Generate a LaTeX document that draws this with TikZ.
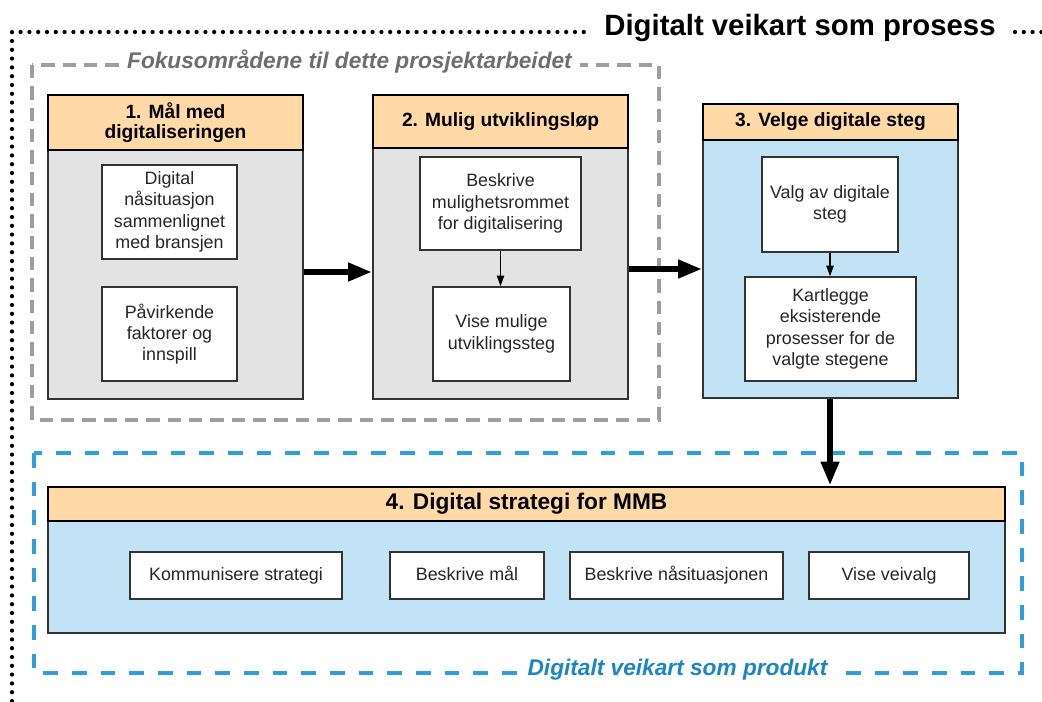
\documentclass[tikz,border=0pt]{standalone}
\usepackage{fontspec}
\setmainfont{Liberation Sans}
\usetikzlibrary{arrows.meta}
\definecolor{hdrfill}{HTML}{FFD9A6}
\definecolor{grayfill}{HTML}{E3E3E3}
\definecolor{bluefill}{HTML}{C1E3F5}
\definecolor{focusgray}{HTML}{9E9E9E}
\definecolor{labelgray}{HTML}{6E6E6E}
\definecolor{prodblue}{HTML}{2E9FDC}
\definecolor{prodtext}{HTML}{1B85C6}
\definecolor{edge}{HTML}{333333}
\begin{document}
\begin{tikzpicture}[x=0.75pt,y=-0.75pt,
  sz/.style 2 args={minimum width=#1*0.75pt, minimum height=#2*0.75pt},
  hdr/.style={draw=black, line width=2.2pt, fill=hdrfill, inner sep=0pt,
    font=\bfseries\fontsize{14.4}{15}\selectfont, align=center},
  body/.style={draw=edge, line width=1.3pt, inner sep=0pt},
  item/.style={draw=edge, line width=1.1pt, fill=white, inner sep=0pt,
    font=\fontsize{13.4}{16}\selectfont, align=center, text=black!85},
  oneline/.style={text height=9.6pt, text depth=2.8pt},
  bigarrow/.style={line width=5pt, -{Triangle[length=18pt,width=13pt]}},
  smallarrow/.style={line width=0.9pt, -{Triangle[length=8pt,width=5.5pt]}},
  framelabel/.style={fill=white, inner xsep=6pt, inner ysep=1pt,
    font=\bfseries\itshape\fontsize{17}{19}\selectfont},
]
\useasboundingbox[fill=white] (0,0) rectangle (1042,701);

% outer dotted frame: the process
\draw[line width=3.2pt, line cap=round, dash pattern=on 0pt off 6.6pt]
  (12,701) -- (12,32) -- (1042,32);
\node[fill=white, inner xsep=13pt, inner ysep=2pt,
  font=\bfseries\fontsize{22}{24}\selectfont] (title) at (800,28) {Digitalt veikart som prosess};

% grey dashed frame: focus areas
\draw[focusgray, line width=3pt, dash pattern=on 10pt off 6pt]
  (32,65) rectangle (659,420);
\node[framelabel, text=labelgray] (focus) at (349.5,62) {Fokusområdene til dette prosjektarbeidet};

% blue dashed frame: the product
\draw[prodblue, line width=2.5pt, dash pattern=on 11pt off 10.5pt]
  (34,453) rectangle (1022,673);
\node[framelabel, text=prodtext] (product) at (677.5,670) {Digitalt veikart som produkt};

% step 1
\node[body, fill=grayfill, sz={255}{249}] (b1) at (175.5,274.5) {};
\node[hdr, sz={255}{55}] (h1) at (175.5,122.5) {1. Mål med\\digitaliseringen};
\node[item, sz={135}{94}] (i11) at (169.5,212) {Digital\\nåsituasjon\\sammenlignet\\med bransjen};
\node[item, sz={135}{94}] (i12) at (169.5,334) {Påvirkende\\faktorer og\\innspill};

% step 2
\node[body, fill=grayfill, sz={255}{251}] (b2) at (500.5,273.5) {};
\node[hdr, sz={255}{53}] (h2) at (500.5,121.5) {2. Mulig utviklingsløp};
\node[item, sz={161}{93}] (i21) at (500.5,203.5) {Beskrive\\mulighetsrommet\\for digitalisering};
\node[item, sz={137}{94}] (i22) at (501.5,334) {Vise mulige\\utviklingssteg};

% step 3
\node[body, fill=bluefill, sz={255}{258}] (b3) at (830.5,269) {};
\node[hdr, sz={255}{36}] (h3) at (830.5,122) {3. Velge digitale steg};
\node[item, sz={136}{95}] (i31) at (830,204.5) {Valg av digitale\\steg};
\node[item, sz={171}{104}] (i32) at (830.5,329) {Kartlegge\\eksisterende\\prosesser for de\\valgte stegene};

% step 4
\node[body, fill=bluefill, sz={957}{112}] (b4) at (526.5,577) {};
\node[hdr, sz={957}{34}, font=\bfseries\fontsize{17}{19}\selectfont] (h4) at (526.5,504) {4. Digital strategi for MMB};
\node[item, oneline, sz={212}{47}] (i41) at (236,575.5) {Kommunisere strategi};
\node[item, oneline, sz={154}{47}] (i42) at (467,575.5) {Beskrive mål};
\node[item, oneline, sz={213}{47}] (i43) at (676.5,575.5) {Beskrive nåsituasjonen};
\node[item, oneline, sz={160}{47}] (i44) at (889,575.5) {Vise veivalg};

% connectors
\draw[smallarrow] (i21.south) -- (i22.north -| i21.south);
\draw[smallarrow] (i31.south) -- (i32.north -| i31.south);
\draw[bigarrow] (b1.east |- 0,272) -- (b2.west |- 0,272);
\draw[bigarrow] (b2.east |- 0,269) -- (b3.west |- 0,269);
\draw[bigarrow] (b3.south -| 830,0) -- (h4.north -| 830,0);
\end{tikzpicture}
\end{document}
